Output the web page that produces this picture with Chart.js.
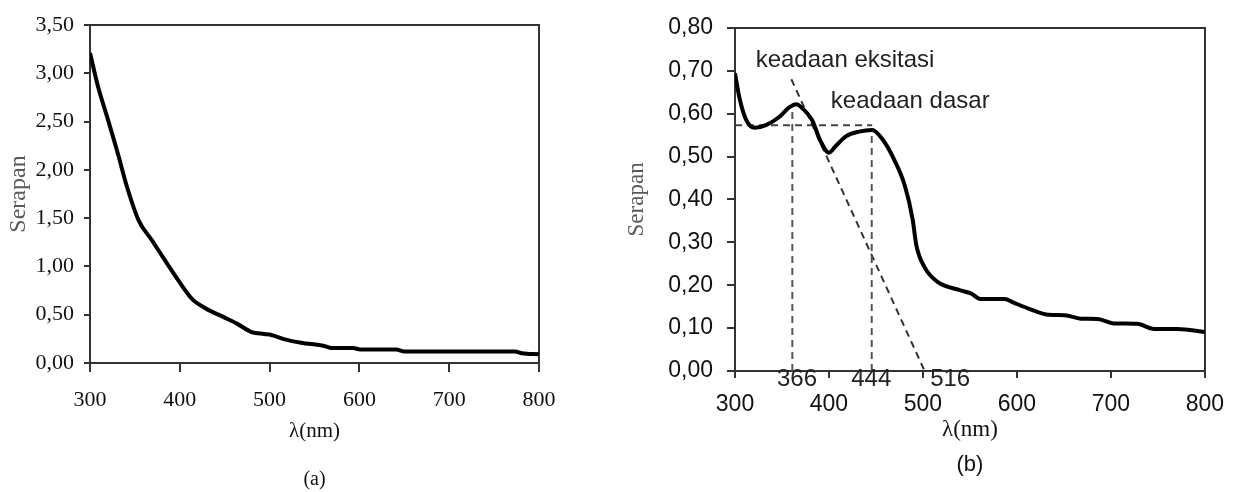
<!DOCTYPE html>
<html>
<head>
<meta charset="utf-8">
<script src="https://cdn.jsdelivr.net/npm/chart.js@4.4.1/dist/chart.umd.min.js"></script>
<style>
  body { margin: 0; background: #fff; }
  #wrap { position: relative; width: 1237px; height: 492px; overflow: hidden; }
  canvas { position: absolute; top: 0; }
  #chartA { left: 0; }
  #chartB { left: 615px; }
</style>
</head>
<body>
<div id="wrap">
  <canvas id="chartA" width="615" height="492"></canvas>
  <canvas id="chartB" width="622" height="492"></canvas>
</div>
<script>
// ---- (a) absorption spectrum ----
const waveA = [300, 309, 320, 331, 341, 354, 369, 383, 398, 413, 428, 450, 465, 480, 494, 502, 517, 535, 561, 569, 593, 601, 641, 649, 773, 781, 800];
const absA = [3.21, 2.86, 2.52, 2.17, 1.83, 1.48, 1.27, 1.07, 0.86, 0.67, 0.57, 0.47, 0.40, 0.32, 0.30, 0.29, 0.245, 0.21, 0.176, 0.155, 0.155, 0.14, 0.14, 0.12, 0.12, 0.10, 0.09];
const yTicksA = [0, 0.5, 1, 1.5, 2, 2.5, 3, 3.5];

// ---- (b) absorption spectrum ----
const waveB = [300, 305, 312, 321, 333, 347, 358, 365, 372, 382, 391, 400, 407, 418, 432, 446, 456, 470, 481, 489, 493, 502, 516, 540, 551, 561, 587, 596, 613, 634, 651, 668, 686, 703, 728, 746, 771, 800];
const absB = [0.694, 0.634, 0.585, 0.567, 0.573, 0.592, 0.615, 0.622, 0.612, 0.585, 0.536, 0.509, 0.524, 0.547, 0.558, 0.562, 0.543, 0.490, 0.430, 0.354, 0.293, 0.241, 0.207, 0.188, 0.181, 0.168, 0.168, 0.160, 0.145, 0.131, 0.130, 0.122, 0.121, 0.111, 0.110, 0.098, 0.098, 0.091];
const yTicksB = [0, 0.1, 0.2, 0.3, 0.4, 0.5, 0.6, 0.7, 0.8];

// construction lines in (b)
const baseX = [300, 446];
const baseY = [0.573, 0.573];
const v366X = [361, 361];
const v366Y = [0, 0.62];
const v444X = [445.5, 445.5];
const v444Y = [0, 0.563];
const tangentX = [360, 501];
const tangentY = [0.68, 0.004];

// annotation texts in (b)
const noteTexts = ['keadaan eksitasi', 'keadaan dasar'];
const noteX = [322, 402];
const noteY = [0.725, 0.629];
const markLabels = ['366', '444', '516'];
const markX = [366, 445, 529];

const xTicks = [300, 400, 500, 600, 700, 800];

const serif = '"Liberation Serif", "Times New Roman", serif';
const sans = '"Liberation Sans", Arial, sans-serif';
const axisColor = '#333';
const textColor = '#111';

function toPoints(xs, ys) {
  return xs.map(function(x, i) { return {x: x, y: ys[i]}; });
}

function fmt(v) {
  return v.toFixed(2).replace('.', ',');
}

function frameAxis(pos, min, max) {
  return {
    type: 'linear', position: pos, min: min, max: max,
    ticks: {display: false},
    grid: {display: false, drawTicks: false},
    border: {display: true, color: axisColor, width: 2},
    afterFit: function(s) { if (pos == 'top') s.height = 0; else s.width = 0; }
  };
}

function dashed(xs, ys, color) {
  return {
    data: toPoints(xs, ys),
    borderColor: color,
    borderWidth: 2,
    borderDash: [7, 5],
    pointRadius: 0,
    fill: false
  };
}

const notesPlugin = {
  id: 'notes',
  afterDatasetsDraw: function(chart) {
    const ctx = chart.ctx;
    const x = chart.scales.x;
    const y = chart.scales.y;
    ctx.save();
    ctx.font = '24px ' + sans;
    ctx.fillStyle = '#222';
    ctx.textBaseline = 'middle';
    ctx.textAlign = 'left';
    for (let i = 0; i < noteTexts.length; i++) {
      ctx.fillText(noteTexts[i], x.getPixelForValue(noteX[i]), y.getPixelForValue(noteY[i]));
    }
    ctx.textAlign = 'center';
    for (let i = 0; i < markLabels.length; i++) {
      ctx.fillText(markLabels[i], x.getPixelForValue(markX[i]), y.getPixelForValue(0) + 8);
    }
    ctx.restore();
  }
};

// chart (a)
new Chart(document.getElementById('chartA'), {
  type: 'line',
  data: {
    datasets: [{
      data: toPoints(waveA, absA),
      borderColor: '#000',
      borderWidth: 4,
      pointRadius: 0,
      cubicInterpolationMode: 'monotone',
      fill: false
    }]
  },
  options: {
    responsive: false,
    animation: false,
    layout: {padding: {top: 25, right: 76, bottom: 0, left: 0}},
    plugins: {
      legend: {display: false},
      tooltip: {enabled: false},
      title: {
        display: true, text: '(a)', position: 'bottom', fullSize: false, padding: 0,
        color: textColor, font: {family: serif, size: 20, weight: 'normal'}
      }
    },
    scales: {
      x: {
        type: 'linear', position: 'bottom', min: 300, max: 800,
        afterBuildTicks: function(s) { s.ticks = xTicks.map(function(v) { return {value: v}; }); },
        ticks: {padding: 15, color: textColor, font: {family: serif, size: 22}, maxRotation: 0},
        grid: {display: true, drawOnChartArea: false, tickLength: 9, color: axisColor, lineWidth: 2},
        border: {color: axisColor, width: 2},
        title: {display: true, text: 'λ(nm)', padding: {top: 0, bottom: 24}, color: textColor, font: {family: serif, size: 21}},
        afterFit: function(s) { s.height = 105; }
      },
      y: {
        type: 'linear', position: 'left', min: 0, max: 3.5,
        afterBuildTicks: function(s) { s.ticks = yTicksA.map(function(v) { return {value: v}; }); },
        ticks: {padding: 10, color: textColor, font: {family: serif, size: 22}, callback: fmt},
        grid: {display: true, drawOnChartArea: false, tickLength: 6, color: axisColor, lineWidth: 2},
        border: {color: axisColor, width: 2},
        title: {display: true, text: 'Serapan', padding: {top: 4, bottom: 0}, color: '#5a5a5a', font: {family: serif, size: 24}},
        afterFit: function(s) { s.width = 90; }
      },
      x2: frameAxis('top', 300, 800),
      y2: frameAxis('right', 0, 3.5)
    }
  }
});

// chart (b)
new Chart(document.getElementById('chartB'), {
  type: 'line',
  data: {
    datasets: [
      {
        data: toPoints(waveB, absB),
        borderColor: '#000',
        borderWidth: 4,
        pointRadius: 0,
        cubicInterpolationMode: 'monotone',
        fill: false
      },
      dashed(baseX, baseY, '#444'),
      dashed(v366X, v366Y, '#555'),
      dashed(v444X, v444Y, '#555'),
      dashed(tangentX, tangentY, '#333')
    ]
  },
  options: {
    responsive: false,
    animation: false,
    layout: {padding: {top: 18.5, right: 27, bottom: 14, left: 0}},
    plugins: {
      legend: {display: false},
      tooltip: {enabled: false},
      title: {
        display: true, text: '(b)', position: 'bottom', fullSize: false, padding: 0,
        color: textColor, font: {family: sans, size: 22, weight: 'normal'}
      }
    },
    scales: {
      x: {
        type: 'linear', position: 'bottom', min: 300, max: 800,
        afterBuildTicks: function(s) { s.ticks = xTicks.map(function(v) { return {value: v}; }); },
        ticks: {padding: 13, color: textColor, font: {family: sans, size: 23}, maxRotation: 0},
        grid: {display: true, drawOnChartArea: false, tickLength: 7, color: axisColor, lineWidth: 2},
        border: {color: axisColor, width: 2},
        title: {display: true, text: 'λ(nm)', padding: {top: 0, bottom: 8}, color: textColor, font: {family: serif, size: 23}},
        afterFit: function(s) { s.height = 80.6; }
      },
      y: {
        type: 'linear', position: 'left', min: 0, max: 0.8,
        afterBuildTicks: function(s) { s.ticks = yTicksB.map(function(v) { return {value: v}; }); },
        ticks: {padding: 14, color: textColor, font: {family: sans, size: 23}, callback: fmt},
        grid: {display: true, drawOnChartArea: false, tickLength: 8, color: axisColor, lineWidth: 2},
        border: {color: axisColor, width: 2},
        title: {display: true, text: 'Serapan', padding: {top: 8, bottom: 0}, color: '#5a5a5a', font: {family: serif, size: 23}},
        afterFit: function(s) { s.width = 120; }
      },
      x2: frameAxis('top', 300, 800),
      y2: frameAxis('right', 0, 0.8)
    }
  },
  plugins: [notesPlugin]
});
</script>
</body>
</html>
